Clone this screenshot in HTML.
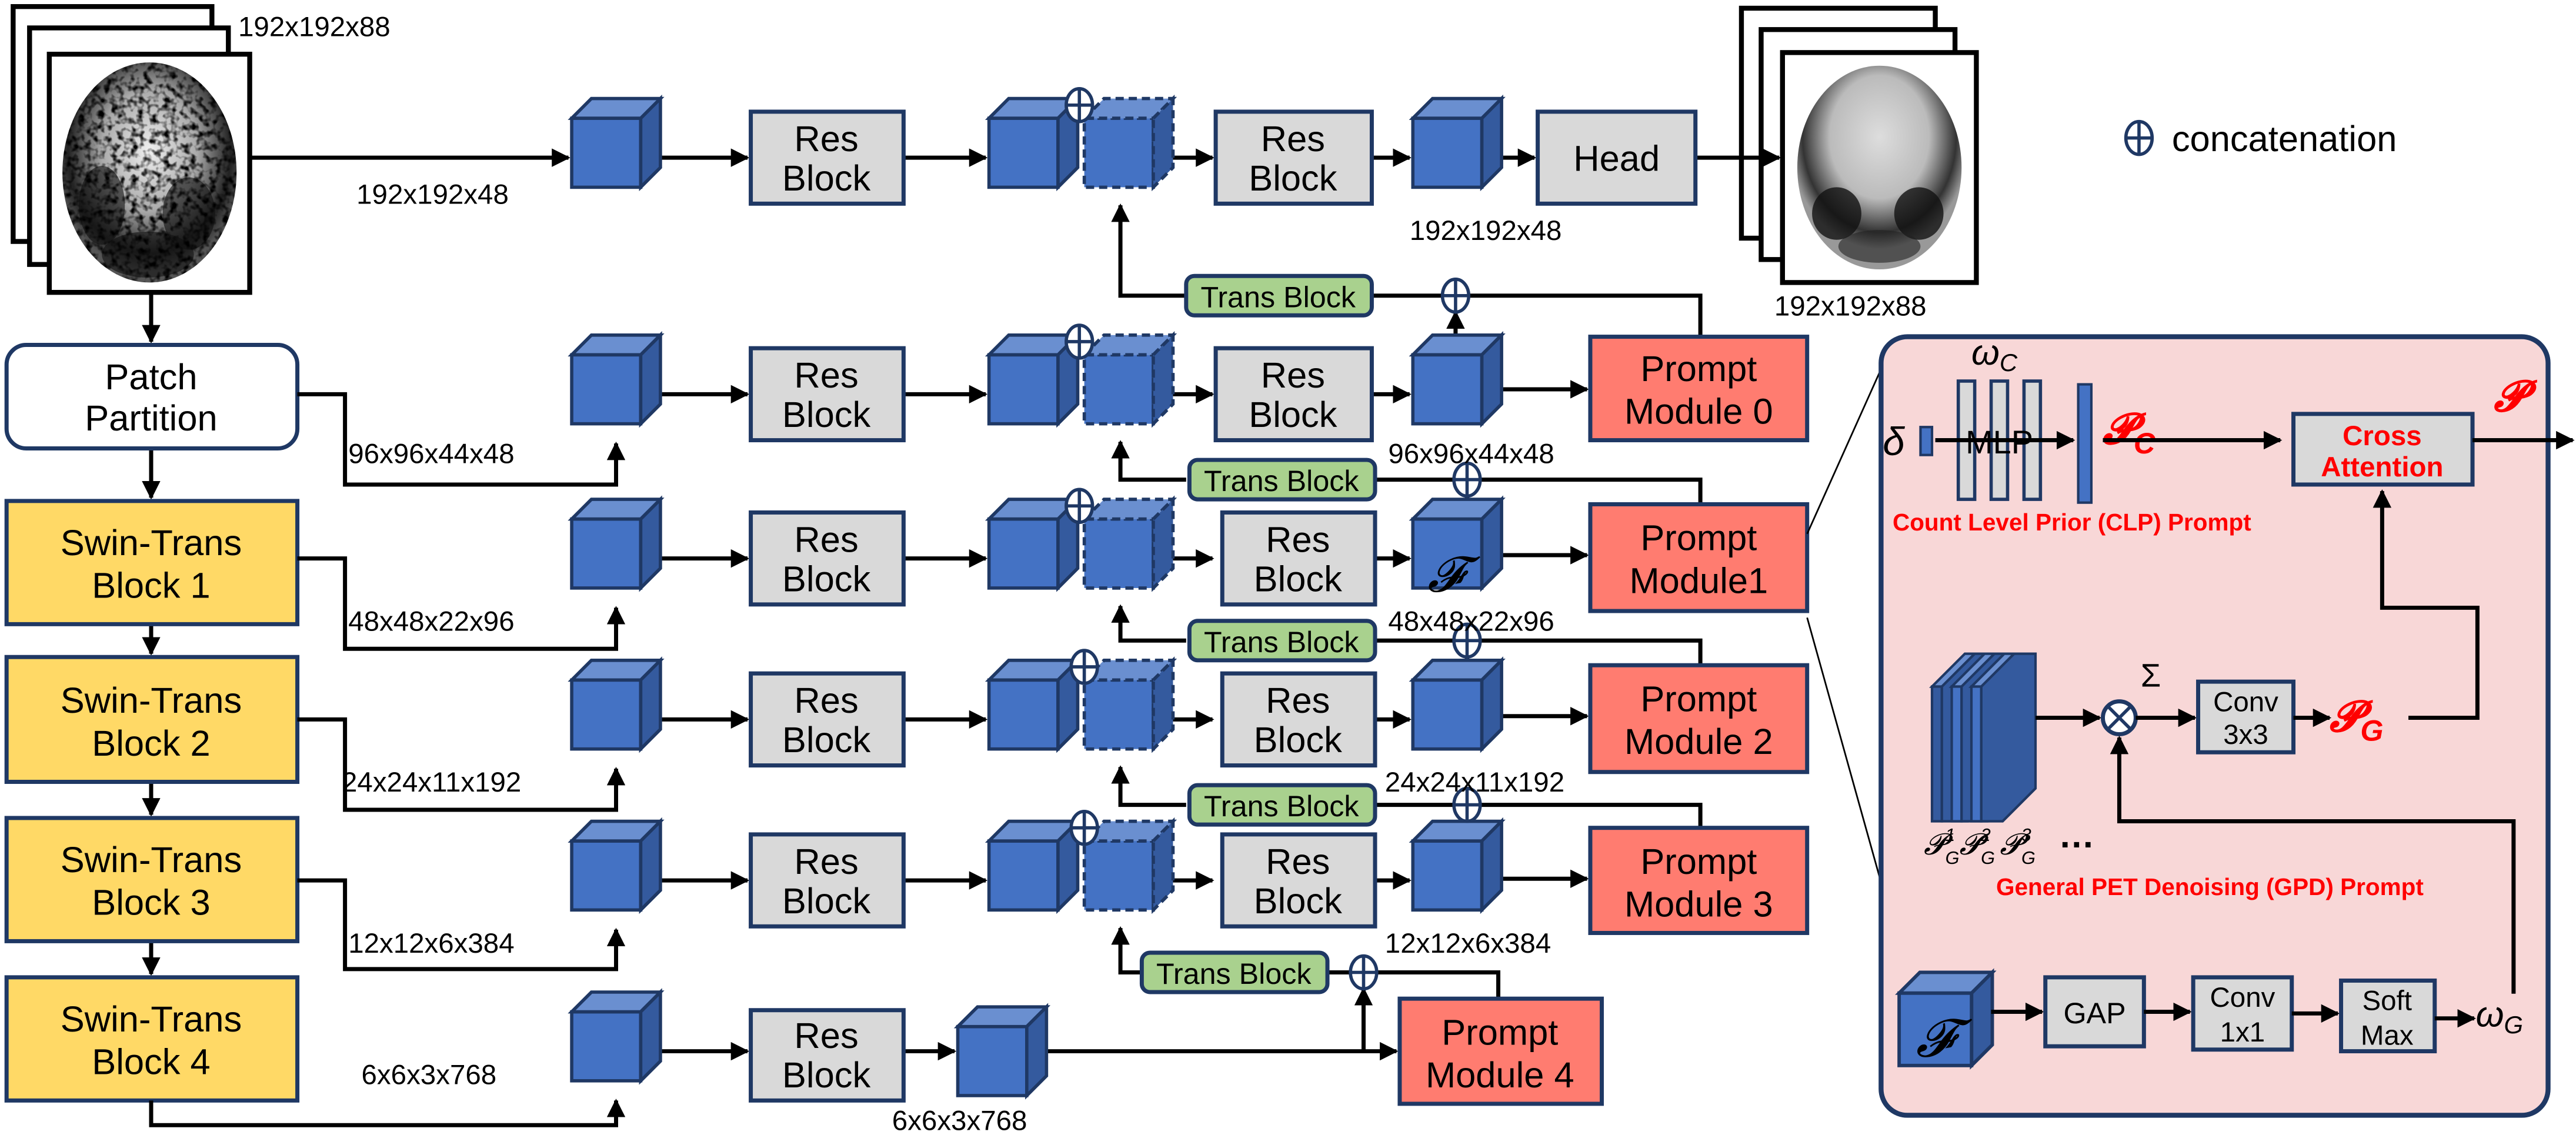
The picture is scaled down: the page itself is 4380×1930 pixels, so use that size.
<!DOCTYPE html>
<html><head><meta charset="utf-8"><style>
html,body{margin:0;padding:0;background:#fff;}
svg{display:block;}
text{font-family:"Liberation Sans",sans-serif;}
</style></head><body>
<svg width="4380" height="1930" viewBox="0 0 1568 691" preserveAspectRatio="none" xmlns="http://www.w3.org/2000/svg">
<defs>
<marker id="ar" viewBox="0 0 10 10" refX="9" refY="5" markerWidth="4.5" markerHeight="4.5" orient="auto-start-reverse" markerUnits="strokeWidth"><path d="M0,0 L10,5 L0,10 z" fill="#000"/></marker>
<g id="cube">
<rect x="0" y="12" width="42" height="42" fill="#4472c4" stroke="#1f3864" stroke-width="2"/>
<polygon points="0,12 12,0 54,0 42,12" fill="#6a8fd0" stroke="#1f3864" stroke-width="2"/>
<polygon points="42,12 54,0 54,42 42,54" fill="#345a9e" stroke="#1f3864" stroke-width="2"/>
</g>
<g id="dcube">
<rect x="0" y="12" width="42" height="42" fill="#4472c4" stroke="#1f3864" stroke-width="2" stroke-dasharray="5,3"/>
<polygon points="0,12 12,0 54,0 42,12" fill="#6a8fd0" stroke="#1f3864" stroke-width="2" stroke-dasharray="5,3"/>
<polygon points="42,12 54,0 54,42 42,54" fill="#345a9e" stroke="#1f3864" stroke-width="2" stroke-dasharray="5,3"/>
</g>
<g id="oplus"><ellipse cx="0" cy="0" rx="8" ry="10" fill="#fff" stroke="#1f3864" stroke-width="2"/><line x1="-8" y1="0" x2="8" y2="0" stroke="#1f3864" stroke-width="2"/><line x1="0" y1="-10" x2="0" y2="10" stroke="#1f3864" stroke-width="2"/></g>
<radialGradient id="brg" cx="50%" cy="40%" r="55%"><stop offset="0" stop-color="#f0f0f0"/><stop offset="0.5" stop-color="#aaa"/><stop offset="0.85" stop-color="#222"/><stop offset="1" stop-color="#555"/></radialGradient>
<radialGradient id="brg2" cx="50%" cy="35%" r="55%"><stop offset="0" stop-color="#ddd"/><stop offset="0.55" stop-color="#bbb"/><stop offset="0.85" stop-color="#333"/><stop offset="1" stop-color="#999"/></radialGradient>
<filter id="noise" x="0" y="0" width="100%" height="100%">
<feTurbulence type="fractalNoise" baseFrequency="0.25" numOctaves="2" seed="3" result="t"/>
<feColorMatrix in="t" type="matrix" values="0 0 0 0 0  0 0 0 0 0  0 0 0 0 0  3 0 0 0 -1.3" result="n"/>
<feComposite in="n" in2="SourceGraphic" operator="in"/>
</filter>
<clipPath id="c1"><ellipse cx="91" cy="105" rx="53" ry="67"/></clipPath>
</defs>

<!-- input brain stack -->
<rect x="8" y="4" width="121" height="143" fill="#fff" stroke="#000" stroke-width="3"/>
<rect x="18" y="17" width="121" height="144" fill="#fff" stroke="#000" stroke-width="3"/>
<rect x="30" y="33" width="122" height="145" fill="#fff" stroke="#000" stroke-width="3"/>
<ellipse cx="91" cy="105" rx="53" ry="67" fill="url(#brg)"/>
<ellipse cx="62" cy="125" rx="14" ry="24" fill="#111" opacity="0.6"/>
<ellipse cx="115" cy="130" rx="16" ry="22" fill="#111" opacity="0.6"/>
<ellipse cx="90" cy="155" rx="28" ry="14" fill="#111" opacity="0.6"/>
<g clip-path="url(#c1)"><rect x="38" y="38" width="106" height="134" fill="#000" filter="url(#noise)"/></g>
<text x="145" y="22" font-size="17">192x192x88</text>

<!-- output brain stack -->
<rect x="1060" y="5" width="118" height="140" fill="#fff" stroke="#000" stroke-width="3"/>
<rect x="1072" y="18" width="118" height="140" fill="#fff" stroke="#000" stroke-width="3"/>
<rect x="1085" y="32" width="118" height="140" fill="#fff" stroke="#000" stroke-width="3"/>
<ellipse cx="1144" cy="102" rx="50" ry="62" fill="url(#brg2)"/>
<ellipse cx="1118" cy="130" rx="15" ry="16" fill="#111" opacity="0.8"/>
<ellipse cx="1168" cy="130" rx="15" ry="16" fill="#111" opacity="0.8"/>
<ellipse cx="1144" cy="150" rx="25" ry="10" fill="#222" opacity="0.6"/>
<text x="1080" y="192" font-size="17">192x192x88</text>

<!-- concatenation legend -->
<use href="#oplus" x="1302" y="84"/>
<text x="1322" y="92" font-size="22">concatenation</text>

<!-- left column -->
<g stroke="#000" stroke-width="2.5" fill="none">
<line x1="92" y1="178" x2="92" y2="208" marker-end="url(#ar)"/>
<line x1="92" y1="273" x2="92" y2="303" marker-end="url(#ar)"/>
<line x1="92" y1="380" x2="92" y2="398" marker-end="url(#ar)"/>
<line x1="92" y1="476" x2="92" y2="496" marker-end="url(#ar)"/>
<line x1="92" y1="573" x2="92" y2="593" marker-end="url(#ar)"/>
</g>
<rect x="4" y="210" width="177" height="63" rx="12" fill="#fff" stroke="#1f3864" stroke-width="2.5"/>
<text x="92" y="237" font-size="22" text-anchor="middle">Patch</text>
<text x="92" y="262" font-size="22" text-anchor="middle">Partition</text>
<g fill="#ffd966" stroke="#1f3864" stroke-width="2.5">
<rect x="4" y="305" width="177" height="75"/>
<rect x="4" y="400" width="177" height="76"/>
<rect x="4" y="498" width="177" height="75"/>
<rect x="4" y="595" width="177" height="75"/>
</g>
<g font-size="22" text-anchor="middle">
<text x="92" y="338">Swin-Trans</text><text x="92" y="364">Block 1</text>
<text x="92" y="434">Swin-Trans</text><text x="92" y="460">Block 2</text>
<text x="92" y="531">Swin-Trans</text><text x="92" y="557">Block 3</text>
<text x="92" y="628">Swin-Trans</text><text x="92" y="654">Block 4</text>
</g>

<!-- left connectors -->
<g stroke="#000" stroke-width="2.5" fill="none">
<line x1="152" y1="96" x2="346" y2="96" marker-end="url(#ar)"/>
<polyline points="181,240 210,240 210,295 375,295 375,270" marker-end="url(#ar)"/>
<polyline points="181,340 210,340 210,395 375,395 375,370" marker-end="url(#ar)"/>
<polyline points="181,438 210,438 210,493 375,493 375,468" marker-end="url(#ar)"/>
<polyline points="181,536 210,536 210,590 375,590 375,566" marker-end="url(#ar)"/>
<polyline points="92,670 92,685 375,685 375,670" marker-end="url(#ar)"/>
</g>
<g font-size="17">
<text x="217" y="124">192x192x48</text>
<text x="212" y="282">96x96x44x48</text>
<text x="212" y="384">48x48x22x96</text>
<text x="208" y="482">24x24x11x192</text>
<text x="212" y="580">12x12x6x384</text>
<text x="220" y="660">6x6x3x768</text>
</g>

<!-- rows -->
<g stroke="#000" stroke-width="2.5" fill="none">
<line x1="402" y1="96" x2="455" y2="96" marker-end="url(#ar)"/>
<line x1="550" y1="96" x2="600" y2="96" marker-end="url(#ar)"/>
<line x1="714" y1="96" x2="738" y2="96" marker-end="url(#ar)"/>
<line x1="835" y1="96" x2="858" y2="96" marker-end="url(#ar)"/>
<line x1="914" y1="96" x2="934" y2="96" marker-end="url(#ar)"/>
<line x1="1032" y1="96" x2="1083" y2="96" marker-end="url(#ar)"/>
<line x1="402" y1="240" x2="455" y2="240" marker-end="url(#ar)"/>
<line x1="550" y1="240" x2="600" y2="240" marker-end="url(#ar)"/>
<line x1="714" y1="240" x2="738" y2="240" marker-end="url(#ar)"/>
<line x1="835" y1="240" x2="858" y2="240" marker-end="url(#ar)"/>
<line x1="914" y1="237" x2="966" y2="237" marker-end="url(#ar)"/>
<line x1="402" y1="340" x2="455" y2="340" marker-end="url(#ar)"/>
<line x1="550" y1="340" x2="600" y2="340" marker-end="url(#ar)"/>
<line x1="714" y1="340" x2="738" y2="340" marker-end="url(#ar)"/>
<line x1="835" y1="340" x2="858" y2="340" marker-end="url(#ar)"/>
<line x1="914" y1="338" x2="966" y2="338" marker-end="url(#ar)"/>
<line x1="402" y1="438" x2="455" y2="438" marker-end="url(#ar)"/>
<line x1="550" y1="438" x2="600" y2="438" marker-end="url(#ar)"/>
<line x1="714" y1="438" x2="738" y2="438" marker-end="url(#ar)"/>
<line x1="835" y1="438" x2="858" y2="438" marker-end="url(#ar)"/>
<line x1="914" y1="436" x2="966" y2="436" marker-end="url(#ar)"/>
<line x1="402" y1="536" x2="455" y2="536" marker-end="url(#ar)"/>
<line x1="550" y1="536" x2="600" y2="536" marker-end="url(#ar)"/>
<line x1="714" y1="536" x2="738" y2="536" marker-end="url(#ar)"/>
<line x1="835" y1="536" x2="858" y2="536" marker-end="url(#ar)"/>
<line x1="914" y1="535" x2="966" y2="535" marker-end="url(#ar)"/>
<line x1="402" y1="640" x2="455" y2="640" marker-end="url(#ar)"/>
<line x1="550" y1="640" x2="581" y2="640" marker-end="url(#ar)"/>
<line x1="636" y1="640" x2="850" y2="640" marker-end="url(#ar)"/>

<polyline points="722,180 682,180 682,125" marker-end="url(#ar)"/>
<polyline points="835,180 1035,180 1035,205"/>
<line x1="886" y1="213" x2="886" y2="190" marker-end="url(#ar)"/>
<polyline points="722,292 682,292 682,269" marker-end="url(#ar)"/>
<polyline points="835,292 1035,292 1035,307"/>
<line x1="893" y1="313" x2="893" y2="302" marker-end="url(#ar)"/>
<polyline points="722,390 682,390 682,369" marker-end="url(#ar)"/>
<polyline points="835,390 1035,390 1035,405"/>
<line x1="893" y1="411" x2="893" y2="400" marker-end="url(#ar)"/>
<polyline points="722,490 682,490 682,467" marker-end="url(#ar)"/>
<polyline points="835,490 1035,490 1035,504"/>
<line x1="893" y1="509" x2="893" y2="500" marker-end="url(#ar)"/>
<polyline points="695,592 682,592 682,565" marker-end="url(#ar)"/>
<polyline points="808,592 912,592 912,608"/>
<line x1="830" y1="640" x2="830" y2="602" marker-end="url(#ar)"/>
</g>

<!-- cubes -->
<use href="#cube" x="348" y="60"/><use href="#cube" x="348" y="204"/><use href="#cube" x="348" y="304"/>
<use href="#cube" x="348" y="402"/><use href="#cube" x="348" y="500"/><use href="#cube" x="348" y="604"/>
<use href="#cube" x="602" y="60"/><use href="#dcube" x="660" y="60"/>
<use href="#cube" x="602" y="204"/><use href="#dcube" x="660" y="204"/>
<use href="#cube" x="602" y="304"/><use href="#dcube" x="660" y="304"/>
<use href="#cube" x="602" y="402"/><use href="#dcube" x="660" y="402"/>
<use href="#cube" x="602" y="500"/><use href="#dcube" x="660" y="500"/>
<use href="#cube" x="860" y="60"/><use href="#cube" x="860" y="204"/><use href="#cube" x="860" y="304"/>
<use href="#cube" x="860" y="402"/><use href="#cube" x="860" y="500"/>
<use href="#cube" x="583" y="613"/>
<text x="880" y="360" font-size="30" font-style="italic" font-family="Liberation Serif,serif" text-anchor="middle">𝓕</text>
<use href="#oplus" x="657" y="64"/><use href="#oplus" x="657" y="208"/><use href="#oplus" x="657" y="308"/>
<use href="#oplus" x="660" y="406"/><use href="#oplus" x="660" y="504"/>
<use href="#oplus" x="886" y="180"/><use href="#oplus" x="893" y="292"/><use href="#oplus" x="893" y="390"/>
<use href="#oplus" x="893" y="490"/><use href="#oplus" x="830" y="592"/>

<!-- res blocks -->
<g fill="#d9d9d9" stroke="#1f3864" stroke-width="2.5">
<rect x="457" y="68" width="93" height="56"/><rect x="740" y="68" width="95" height="56"/>
<rect x="936" y="68" width="96" height="56"/>
<rect x="457" y="212" width="93" height="56"/><rect x="740" y="212" width="95" height="56"/>
<rect x="457" y="312" width="93" height="56"/><rect x="744" y="312" width="93" height="56"/>
<rect x="457" y="410" width="93" height="56"/><rect x="744" y="410" width="93" height="56"/>
<rect x="457" y="508" width="93" height="56"/><rect x="744" y="508" width="93" height="56"/>
<rect x="457" y="615" width="93" height="55"/>
</g>
<g font-size="22" text-anchor="middle">
<text x="503" y="92">Res</text><text x="503" y="116">Block</text>
<text x="787" y="92">Res</text><text x="787" y="116">Block</text>
<text x="984" y="104">Head</text>
<text x="503" y="236">Res</text><text x="503" y="260">Block</text>
<text x="787" y="236">Res</text><text x="787" y="260">Block</text>
<text x="503" y="336">Res</text><text x="503" y="360">Block</text>
<text x="790" y="336">Res</text><text x="790" y="360">Block</text>
<text x="503" y="434">Res</text><text x="503" y="458">Block</text>
<text x="790" y="434">Res</text><text x="790" y="458">Block</text>
<text x="503" y="532">Res</text><text x="503" y="556">Block</text>
<text x="790" y="532">Res</text><text x="790" y="556">Block</text>
<text x="503" y="638">Res</text><text x="503" y="662">Block</text>
</g>

<!-- trans blocks -->
<g fill="#a9d18e" stroke="#1f3864" stroke-width="2.5">
<rect x="722" y="168" width="113" height="24" rx="5"/>
<rect x="724" y="280" width="113" height="24" rx="5"/>
<rect x="724" y="378" width="113" height="24" rx="5"/>
<rect x="724" y="478" width="113" height="24" rx="5"/>
<rect x="695" y="580" width="113" height="24" rx="5"/>
</g>
<g font-size="18" text-anchor="middle">
<text x="778" y="187">Trans Block</text><text x="780" y="299">Trans Block</text>
<text x="780" y="397">Trans Block</text><text x="780" y="497">Trans Block</text>
<text x="751" y="599">Trans Block</text>
</g>

<!-- prompt modules -->
<g fill="#ff7c70" stroke="#1f3864" stroke-width="2.5">
<rect x="968" y="205" width="132" height="63"/>
<rect x="968" y="307" width="132" height="65"/>
<rect x="968" y="405" width="132" height="65"/>
<rect x="968" y="504" width="132" height="64"/>
<rect x="852" y="608" width="123" height="64"/>
</g>
<g font-size="22" text-anchor="middle">
<text x="1034" y="232">Prompt</text><text x="1034" y="258">Module 0</text>
<text x="1034" y="335">Prompt</text><text x="1034" y="361">Module1</text>
<text x="1034" y="433">Prompt</text><text x="1034" y="459">Module 2</text>
<text x="1034" y="532">Prompt</text><text x="1034" y="558">Module 3</text>
<text x="913" y="636">Prompt</text><text x="913" y="662">Module 4</text>
</g>
<g font-size="17">
<text x="858" y="146">192x192x48</text>
<text x="845" y="282">96x96x44x48</text>
<text x="845" y="384">48x48x22x96</text>
<text x="843" y="482">24x24x11x192</text>
<text x="843" y="580">12x12x6x384</text>
<text x="543" y="688">6x6x3x768</text>
</g>

<!-- zoom lines -->
<line x1="1100" y1="325" x2="1148" y2="218" stroke="#000" stroke-width="1"/>
<line x1="1100" y1="376" x2="1148" y2="548" stroke="#000" stroke-width="1"/>

<!-- right panel -->
<rect x="1145" y="205" width="406" height="474" rx="16" fill="#f8d7d7" stroke="#1f3864" stroke-width="3"/>
<text x="1146" y="277" font-size="24" font-family="Liberation Serif,serif" font-style="italic">δ</text>
<rect x="1169" y="260" width="7" height="17" fill="#4472c4" stroke="#1f3864" stroke-width="1.5"/>
<g fill="#d9d9d9" stroke="#1f3864" stroke-width="2">
<rect x="1192" y="232" width="10" height="72"/><rect x="1212" y="232" width="10" height="72"/><rect x="1232" y="232" width="10" height="72"/>
</g>
<line x1="1178" y1="268" x2="1262" y2="268" stroke="#000" stroke-width="2.5" marker-end="url(#ar)"/>
<text x="1217" y="276" font-size="20" text-anchor="middle">MLP</text>
<text x="1200" y="222" font-size="22" font-family="Liberation Serif,serif" font-style="italic">ω<tspan font-size="15" dy="4">C</tspan></text>
<rect x="1265" y="234" width="8" height="72" fill="#4472c4" stroke="#1f3864" stroke-width="1.5"/>
<text x="1280" y="270" font-size="26" fill="#f00" font-weight="bold" font-style="italic" font-family="Liberation Serif,serif">𝓟<tspan font-size="18" dy="6">C</tspan></text>
<line x1="1280" y1="268" x2="1388" y2="268" stroke="#000" stroke-width="2.5" marker-end="url(#ar)"/>
<rect x="1396" y="252" width="109" height="43" fill="#d9d9d9" stroke="#1f3864" stroke-width="2.5"/>
<text x="1450" y="271" font-size="17" fill="#f00" font-weight="bold" text-anchor="middle">Cross</text>
<text x="1450" y="290" font-size="17" fill="#f00" font-weight="bold" text-anchor="middle">Attention</text>
<text x="1518" y="250" font-size="26" fill="#f00" font-weight="bold" font-style="italic" font-family="Liberation Serif,serif">𝓟</text>
<line x1="1505" y1="268" x2="1566" y2="268" stroke="#000" stroke-width="2.5" marker-end="url(#ar)"/>
<text x="1152" y="323" font-size="14.5" fill="#f00" font-weight="bold">Count Level Prior (CLP) Prompt</text>

<g stroke="#1f3864" stroke-width="1.5">
<polygon points="1176,418 1196,398 1202,398 1182,418" fill="#6a8fd0"/><rect x="1176" y="418" width="6" height="82" fill="#345a9e"/>
<polygon points="1182,418 1202,398 1218,398 1218,480 1198,500 1182,500" fill="#345a9e"/>
<polygon points="1188,418 1208,398 1214,398 1194,418" fill="#6a8fd0"/><rect x="1188" y="418" width="6" height="82" fill="#4472c4"/>
<polygon points="1194,418 1214,398 1230,398 1230,480 1210,500 1194,500" fill="#345a9e"/>
<polygon points="1200,418 1220,398 1226,398 1206,418" fill="#6a8fd0"/><rect x="1200" y="418" width="6" height="82" fill="#4472c4"/>
<polygon points="1206,418 1226,398 1239,398 1239,480 1219,500 1206,500" fill="#345a9e"/>
</g>
<text x="1171" y="520" font-size="18" font-family="Liberation Serif,serif" font-style="italic">𝓟<tspan font-size="11" dy="-8">1</tspan><tspan font-size="11" dx="-6" dy="14">G</tspan><tspan dy="-6">𝓟</tspan><tspan font-size="11" dy="-8">2</tspan><tspan font-size="11" dx="-6" dy="14">G</tspan><tspan dx="3" dy="-6">𝓟</tspan><tspan font-size="11" dy="-8">3</tspan><tspan font-size="11" dx="-6" dy="14">G</tspan></text>
<text x="1253" y="516" font-size="22" font-weight="bold">…</text>
<line x1="1239" y1="437" x2="1278" y2="437" stroke="#000" stroke-width="2.5" marker-end="url(#ar)"/>
<circle cx="1290" cy="437" r="10" fill="#fff" stroke="#1f3864" stroke-width="2.5"/>
<line x1="1283" y1="430" x2="1297" y2="444" stroke="#1f3864" stroke-width="2"/><line x1="1297" y1="430" x2="1283" y2="444" stroke="#1f3864" stroke-width="2"/>
<text x="1303" y="418" font-size="20">Σ</text>
<line x1="1300" y1="437" x2="1336" y2="437" stroke="#000" stroke-width="2.5" marker-end="url(#ar)"/>
<rect x="1338" y="415" width="58" height="43" fill="#d9d9d9" stroke="#1f3864" stroke-width="2.5"/>
<text x="1367" y="433" font-size="17" text-anchor="middle">Conv</text><text x="1367" y="453" font-size="17" text-anchor="middle">3x3</text>
<line x1="1396" y1="437" x2="1418" y2="437" stroke="#000" stroke-width="2.5" marker-end="url(#ar)"/>
<text x="1418" y="445" font-size="26" fill="#f00" font-weight="bold" font-style="italic" font-family="Liberation Serif,serif">𝓟<tspan font-size="18" dy="6">G</tspan></text>
<polyline points="1466,437 1508,437 1508,370 1450,370 1450,299" fill="none" stroke="#000" stroke-width="2.5" marker-end="url(#ar)"/>
<polyline points="1530,605 1530,500 1290,500 1290,449" fill="none" stroke="#000" stroke-width="2.5" marker-end="url(#ar)"/>
<text x="1215" y="545" font-size="14.5" fill="#f00" font-weight="bold">General PET Denoising (GPD) Prompt</text>

<use href="#cube" x="1156" y="592" transform="translate(1156 592) scale(1.05) translate(-1156 -592)"/>
<text x="1178" y="643" font-size="32" font-family="Liberation Serif,serif" font-style="italic" text-anchor="middle">𝓕</text>
<line x1="1212" y1="616" x2="1243" y2="616" stroke="#000" stroke-width="2.5" marker-end="url(#ar)"/>
<rect x="1245" y="595" width="60" height="42" fill="#d9d9d9" stroke="#1f3864" stroke-width="2.5"/>
<text x="1275" y="623" font-size="18" text-anchor="middle">GAP</text>
<line x1="1305" y1="616" x2="1333" y2="616" stroke="#000" stroke-width="2.5" marker-end="url(#ar)"/>
<rect x="1335" y="595" width="60" height="44" fill="#d9d9d9" stroke="#1f3864" stroke-width="2.5"/>
<text x="1365" y="613" font-size="17" text-anchor="middle">Conv</text><text x="1365" y="634" font-size="17" text-anchor="middle">1x1</text>
<line x1="1395" y1="617" x2="1423" y2="617" stroke="#000" stroke-width="2.5" marker-end="url(#ar)"/>
<rect x="1425" y="597" width="57" height="43" fill="#d9d9d9" stroke="#1f3864" stroke-width="2.5"/>
<text x="1453" y="615" font-size="17" text-anchor="middle">Soft</text><text x="1453" y="636" font-size="17" text-anchor="middle">Max</text>
<line x1="1482" y1="620" x2="1506" y2="620" stroke="#000" stroke-width="2.5" marker-end="url(#ar)"/>
<text x="1507" y="625" font-size="22" font-family="Liberation Serif,serif" font-style="italic">ω<tspan font-size="15" dy="4">G</tspan></text>
</svg>
</body></html>
